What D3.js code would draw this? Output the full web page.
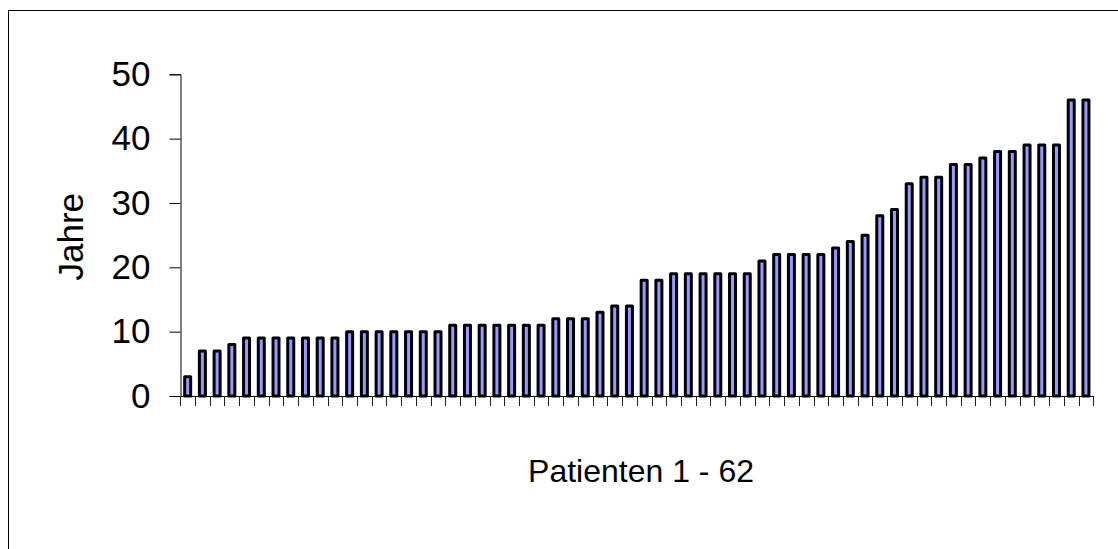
<!DOCTYPE html>
<html>
<head>
<meta charset="utf-8">
<script src="https://cdn.jsdelivr.net/npm/d3@7"></script>
<style>
  html, body { margin: 0; padding: 0; background: #fff; }
  svg { display: block; }
  text { font-family: "Liberation Sans", Arial, sans-serif; fill: #000; }
</style>
</head>
<body>
<svg id="chart" width="1118" height="549"></svg>
<script>
const patients = d3.range(1, 63);
const years = [3, 7, 7, 8, 9, 9, 9, 9, 9, 9, 9, 10, 10, 10, 10, 10, 10, 10,
  11, 11, 11, 11, 11, 11, 11, 12, 12, 12, 13, 14, 14, 18, 18,
  19, 19, 19, 19, 19, 19, 21, 22, 22, 22, 22, 23, 24, 25, 28, 29,
  33, 34, 34, 36, 36, 37, 38, 38, 39, 39, 39, 46, 46];
const yTicks = [0, 10, 20, 30, 40, 50];
const yTitle = "Jahre";
const xTitle = "Patienten 1 - 62";

const svg = d3.select("#chart");

// outer frame
svg.append("rect")
  .attr("x", 8.5).attr("y", 10.5)
  .attr("width", 1130).attr("height", 560)
  .attr("fill", "none").attr("stroke", "#000").attr("stroke-width", 1);

const x = d3.scaleBand().domain(patients).range([180.3, 1093.3]).padding(0);
const y = d3.scaleLinear().domain([0, 50]).range([396, 74.3]);

// bars
const barW = 6;
svg.append("g").selectAll("rect")
  .data(years)
  .join("rect")
  .attr("x", (d, i) => x(patients[i]) + x.bandwidth() / 2 - barW / 2)
  .attr("y", d => y(d))
  .attr("width", barW)
  .attr("height", d => y(0) - y(d))
  .attr("fill", "#9999ff")
  .attr("stroke", "#000")
  .attr("stroke-width", 3)
  .attr("stroke-linejoin", "round");

// y axis
const yAxis = svg.append("g").attr("transform", "translate(180.5,0)")
  .call(d3.axisLeft(y).tickValues(yTicks).tickSize(11).tickPadding(19).tickFormat(d3.format("d")));
yAxis.select(".domain").attr("stroke", "#000");
yAxis.selectAll(".tick line").attr("stroke", "#000");
yAxis.selectAll(".tick text")
  .attr("font-size", 35)
  .attr("font-family", "Liberation Sans, Arial, sans-serif")
  .attr("fill", "#000");

// x axis (ticks at category boundaries)
const boundaries = patients.map(p => x(p)).concat([x(patients[patients.length - 1]) + x.bandwidth()]);
const xg = svg.append("g");
xg.append("line")
  .attr("x1", 180.3).attr("x2", boundaries[boundaries.length - 1])
  .attr("y1", y(0) + 0.5).attr("y2", y(0) + 0.5)
  .attr("stroke", "#000");
xg.selectAll("line.tk").data(boundaries).join("line")
  .attr("class", "tk")
  .attr("x1", d => Math.round(d) + 0.5).attr("x2", d => Math.round(d) + 0.5)
  .attr("y1", y(0)).attr("y2", y(0) + 10)
  .attr("stroke", "#222");

// titles
svg.append("text")
  .attr("transform", "translate(82.5,236.7) rotate(-90)")
  .attr("text-anchor", "middle")
  .attr("font-size", 35)
  .text(yTitle);

svg.append("text")
  .attr("x", 641).attr("y", 481.5)
  .attr("text-anchor", "middle")
  .attr("font-size", 32)
  .text(xTitle);
</script>
</body>
</html>
